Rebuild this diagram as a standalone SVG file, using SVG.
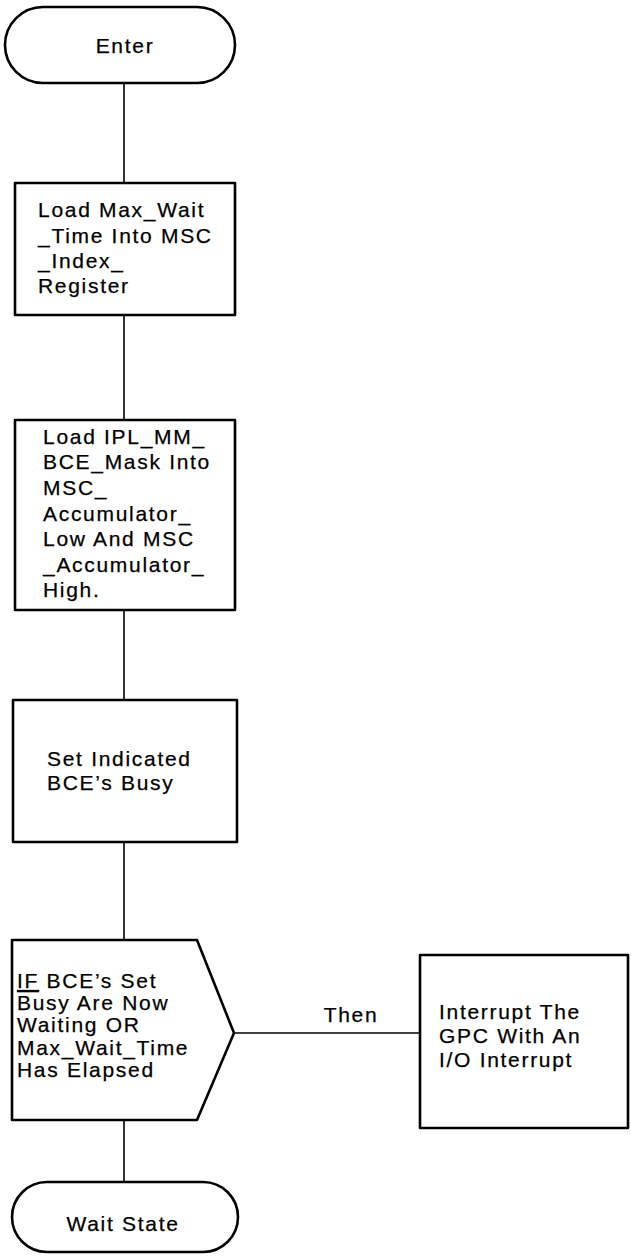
<svg xmlns="http://www.w3.org/2000/svg" width="631" height="1257" viewBox="0 0 631 1257">
  <style>
    .shape { fill: #ffffff; stroke: #000000; stroke-width: 2.6; stroke-linejoin: round; }
    .wire { fill: none; stroke: #000000; stroke-width: 1.6; }
    .label { font-family: "Liberation Sans", Arial, sans-serif; font-size: 21px; letter-spacing: 1.7px; fill: #000000; stroke: #000000; stroke-width: 0.25; }
    .mid { text-anchor: middle; }
    .ul { text-decoration: underline; }
  </style>
  <rect width="631" height="1257" fill="#ffffff"/>

  <!-- flow lines -->
  <g id="connectors">
    <line class="wire" x1="124" y1="83" x2="124" y2="183"/>
    <line class="wire" x1="124" y1="315" x2="124" y2="420"/>
    <line class="wire" x1="124" y1="610" x2="124" y2="700"/>
    <line class="wire" x1="124" y1="842" x2="124" y2="940"/>
    <line class="wire" x1="234" y1="1033" x2="420" y2="1033"/>
    <line class="wire" x1="124" y1="1120" x2="124" y2="1182"/>
    <text class="label mid" x="351" y="1022">Then</text>
  </g>

  <g id="enter">
    <rect class="shape" x="5" y="7" width="230" height="76" rx="38" ry="38"/>
    <text class="label mid" x="125" y="53">Enter</text>
  </g>

  <g id="load-max-wait">
    <rect class="shape" x="15" y="183" width="220" height="132"/>
    <text class="label" x="38" y="217">Load Max_Wait</text>
    <text class="label" x="38" y="243">_Time Into MSC</text>
    <text class="label" x="38" y="268">_Index_</text>
    <text class="label" x="38" y="293">Register</text>
  </g>

  <g id="load-mask">
    <rect class="shape" x="15" y="420" width="220" height="190"/>
    <text class="label" x="43" y="444">Load IPL_MM_</text>
    <text class="label" x="43" y="469">BCE_Mask Into</text>
    <text class="label" x="43" y="495">MSC_</text>
    <text class="label" x="43" y="521">Accumulator_</text>
    <text class="label" x="43" y="546">Low And MSC</text>
    <text class="label" x="43" y="572">_Accumulator_</text>
    <text class="label" x="43" y="597">High.</text>
  </g>

  <g id="set-busy">
    <rect class="shape" x="13" y="700" width="224" height="142"/>
    <text class="label" x="47" y="766">Set Indicated</text>
    <text class="label" x="47" y="790">BCE’s Busy</text>
  </g>

  <g id="decision">
    <polygon class="shape" points="12,940 197,940 234,1033 197,1120 12,1120"/>
    <text class="label" x="17" y="988"><tspan class="ul">IF</tspan> BCE’s Set</text>
    <text class="label" x="17" y="1010">Busy Are Now</text>
    <text class="label" x="17" y="1032">Waiting OR</text>
    <text class="label" x="17" y="1055">Max_Wait_Time</text>
    <text class="label" x="17" y="1077">Has Elapsed</text>
  </g>

  <g id="interrupt">
    <rect class="shape" x="420" y="955" width="208" height="173"/>
    <text class="label" x="439" y="1019">Interrupt The</text>
    <text class="label" x="439" y="1043">GPC With An</text>
    <text class="label" x="439" y="1067">I/O Interrupt</text>
  </g>

  <g id="wait-state">
    <rect class="shape" x="12" y="1182" width="226" height="70" rx="35" ry="35"/>
    <text class="label mid" x="123" y="1231">Wait State</text>
  </g>
</svg>
